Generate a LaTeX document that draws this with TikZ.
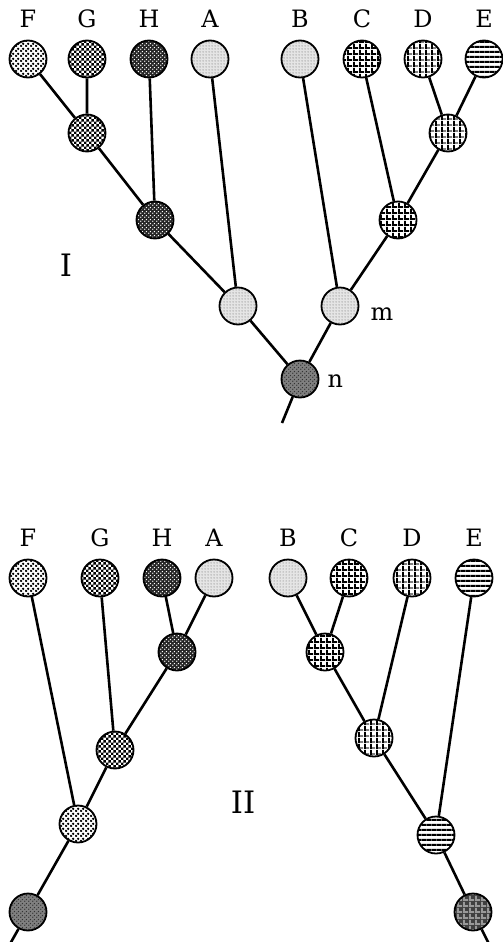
\documentclass[tikz,border=0pt]{standalone}
\usepackage{fontspec}
\setmainfont{DejaVu Serif}
\usetikzlibrary{patterns}
\definecolor{ink}{RGB}{0,0,0}
\pgfdeclarepatternformonly{dotgrid}{\pgfpointorigin}{\pgfpoint{4bp}{4bp}}{\pgfpoint{4bp}{4bp}}{%
  \pgfpathcircle{\pgfpoint{1bp}{1bp}}{0.9bp}\pgfpathcircle{\pgfpoint{3bp}{3bp}}{0.9bp}\pgfusepath{fill}}
\pgfdeclarepatternformonly{bigdots}{\pgfpointorigin}{\pgfpoint{5bp}{5bp}}{\pgfpoint{5bp}{5bp}}{%
  \pgfpathcircle{\pgfpoint{1.25bp}{1.25bp}}{1.5bp}\pgfpathcircle{\pgfpoint{3.75bp}{3.75bp}}{1.5bp}\pgfusepath{fill}}
\pgfdeclarepatternformonly{finedots}{\pgfpointorigin}{\pgfpoint{2.5bp}{2.5bp}}{\pgfpoint{2.5bp}{2.5bp}}{%
  \pgfpathcircle{\pgfpoint{1.25bp}{1.25bp}}{0.6bp}\pgfusepath{fill}}
\pgfdeclarepatternformonly{checks}{\pgfpointorigin}{\pgfpoint{5.4bp}{5.4bp}}{\pgfpoint{5.4bp}{5.4bp}}{%
  \pgfpathrectangle{\pgfpointorigin}{\pgfpoint{2.7bp}{2.7bp}}%
  \pgfpathrectangle{\pgfpoint{2.7bp}{2.7bp}}{\pgfpoint{2.7bp}{2.7bp}}\pgfusepath{fill}}
\pgfdeclarepatternformonly{thickgrid}{\pgfpointorigin}{\pgfpoint{5.5bp}{5.5bp}}{\pgfpoint{5.5bp}{5.5bp}}{%
  \pgfpathrectangle{\pgfpointorigin}{\pgfpoint{5.5bp}{2bp}}%
  \pgfpathrectangle{\pgfpointorigin}{\pgfpoint{2bp}{5.5bp}}\pgfusepath{fill}}
\pgfdeclarepatternformonly{vbars}{\pgfpointorigin}{\pgfpoint{5.5bp}{5.5bp}}{\pgfpoint{5.5bp}{5.5bp}}{%
  \pgfpathrectangle{\pgfpointorigin}{\pgfpoint{2bp}{5.5bp}}\pgfusepath{fill}}
\pgfdeclarepatternformonly{hbars}{\pgfpointorigin}{\pgfpoint{5.5bp}{5.5bp}}{\pgfpoint{5.5bp}{5.5bp}}{%
  \pgfpathrectangle{\pgfpointorigin}{\pgfpoint{5.5bp}{2bp}}\pgfusepath{fill}}
\pgfdeclarepatternformonly{hstripes}{\pgfpointorigin}{\pgfpoint{4.8bp}{4.8bp}}{\pgfpoint{4.8bp}{4.8bp}}{%
  \pgfpathrectangle{\pgfpointorigin}{\pgfpoint{4.8bp}{2.2bp}}\pgfusepath{fill}}
\tikzset{taxon/.style={circle,draw=ink,line width=1.8bp,minimum size=37bp,inner sep=0pt,fill=white},
  link/.style={line width=2.6bp,ink},
  tip/.style={font=\fontsize{24}{28}\selectfont,anchor=base},
  tag/.style={font=\fontsize{24}{28}\selectfont,anchor=base west},
  treename/.style={font=\fontsize{31}{36}\selectfont,anchor=base},
  pat/.style={#1},
  pF/.style={pattern=bigdots,pattern color=ink},
  pG/.style={pattern=checks,pattern color=ink},
  pH/.style={preaction={fill=black!85},pattern=dotgrid,pattern color=white},
  pA/.style={preaction={fill=black!10},pattern=finedots,pattern color=black!60},
  pC/.style={pattern=thickgrid,pattern color=ink},
  pD/.style={preaction={pattern=hbars,pattern color=black!50},pattern=vbars,pattern color=ink},
  pE/.style={pattern=hstripes,pattern color=ink},
  pN/.style={preaction={fill=black!50},pattern=dotgrid,pattern color=black!80},
  pR/.style={preaction={fill=black!75},pattern=thickgrid,pattern color=black!40}}
\begin{document}
\begin{tikzpicture}[x=1bp,y=-1bp]
\useasboundingbox (0,0) rectangle (503,942);
% tree I
\foreach \x/\n/\p in {28/F/pF,87/G/pG,149/H/pH,210/A/pA,300/B/pA,362/C/pC,423/D/pD,484/E/pE}{
  \node[taxon,pat/.expanded=\p] (\n1) at (\x,59) {};
  \node[tip] (l\n1) at (\x,27) {\n};
}
\node[taxon,pG] (fg1) at (87,133) {};
\node[taxon,pH] (fgh1) at (155,220) {};
\node[taxon,pA] (fgha1) at (238,306) {};
\node[taxon,pD] (de1) at (448,133) {};
\node[taxon,pC] (cde1) at (398,220) {};
\node[taxon,pA] (m1) at (340,306) {};
\node[taxon,pN] (n1) at (300,379) {};
\coordinate (base1) at (282,423);
\node[tag] (lm) at (367,320) {m};
\node[tag] (ln) at (324,387) {n};
\node[treename] (tI) at (66,276) {I};
\draw[link] (F1)--(fg1) (G1)--(fg1) (fg1)--(fgh1) (H1)--(fgh1) (fgh1)--(fgha1) (A1)--(fgha1) (fgha1)--(n1);
\draw[link] (D1)--(de1) (E1)--(de1) (de1)--(cde1) (C1)--(cde1) (cde1)--(m1) (B1)--(m1) (m1)--(n1);
\draw[link] (n1)--(base1);
% tree II
\foreach \x/\n/\p in {28/F/pF,100/G/pG,162/H/pH,214/A/pA,288/B/pA,349/C/pC,412/D/pD,474/E/pE}{
  \node[taxon,pat/.expanded=\p] (\n2) at (\x,578) {};
  \node[tip] (l\n2) at (\x,546) {\n};
}
\node[taxon,pH] (ha2) at (177,652) {};
\node[taxon,pG] (gha2) at (115,750) {};
\node[taxon,pF] (fgha2) at (78,824) {};
\node[taxon,pN] (rl2) at (28,912) {};
\coordinate (basel2) at (10,944);
\node[taxon,pC] (bc2) at (325,652) {};
\node[taxon,pD] (bcd2) at (374,738) {};
\node[taxon,pE] (bcde2) at (436,835) {};
\node[taxon,pR] (rr2) at (473,912) {};
\coordinate (baser2) at (489,944);
\node[treename] (tII) at (243,813) {II};
\draw[link] (H2)--(ha2) (A2)--(ha2) (ha2)--(gha2) (G2)--(gha2) (gha2)--(fgha2) (F2)--(fgha2) (fgha2)--(rl2) (rl2)--(basel2);
\draw[link] (B2)--(bc2) (C2)--(bc2) (bc2)--(bcd2) (D2)--(bcd2) (bcd2)--(bcde2) (E2)--(bcde2) (bcde2)--(rr2) (rr2)--(baser2);
\end{tikzpicture}
\end{document}
